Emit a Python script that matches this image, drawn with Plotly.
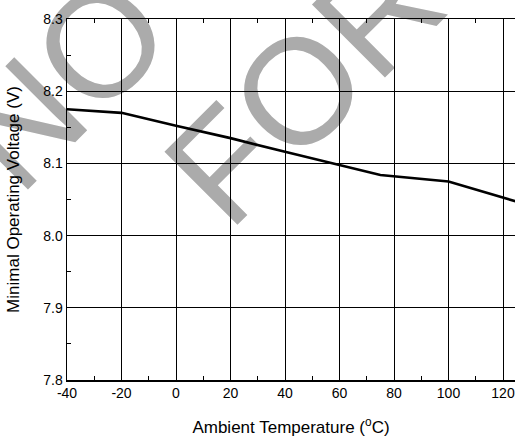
import plotly.graph_objects as go

# Data
temperature_c = [-40, -20, 0, 20, 40, 60, 75, 100, 125]
min_voltage_v = [8.175, 8.170, 8.152, 8.135, 8.116, 8.098, 8.084, 8.075, 8.047]

x_ticks = [-40, -20, 0, 20, 40, 60, 80, 100, 120]
y_ticks = [7.8, 7.9, 8.0, 8.1, 8.2, 8.3]
y_tick_labels = ["7.8", "7.9", "8.0", "8.1", "8.2", "8.3"]

watermark_words = ["NO", "FOR"]

FONT = "Arial, Liberation Sans, sans-serif"

fig = go.Figure()
fig.add_trace(go.Scatter(
    x=temperature_c, y=min_voltage_v, mode="lines",
    line=dict(color="black", width=2.6), showlegend=False, hoverinfo="skip",
))

# watermark drawn beneath grid and data (paper-referenced, lower layer)
wm_pos = [(-0.033, 0.853), (0.507, 0.845)]
for word, (cx, cy) in zip(watermark_words, wm_pos):
    fig.add_shape(
        type="rect", xref="paper", yref="paper",
        x0=cx - 0.001, x1=cx + 0.001, y0=cy - 0.001, y1=cy + 0.001,
        line=dict(width=0), fillcolor="rgba(0,0,0,0)", layer="below",
        label=dict(text=word, textangle=-45, textposition="middle center",
                   font=dict(size=150, color="#ababab", family=FONT)),
    )

fig.update_layout(
    width=515, height=438,
    margin=dict(l=67, r=0, t=19, b=58),
    paper_bgcolor="white", plot_bgcolor="white",
    font=dict(family=FONT, color="black", size=14),
    hovermode=False,
    xaxis=dict(
        range=[-40, 124.4], tickmode="array", tickvals=x_ticks,
        ticktext=[str(v) for v in x_ticks],
        showgrid=True, gridcolor="black", gridwidth=1, zeroline=False,
        showline=True, linecolor="black", linewidth=1.5, mirror="ticks",
        ticks="inside", ticklen=0, tickcolor="black",
        minor=dict(dtick=10, tick0=-40, ticks="inside", ticklen=4, tickcolor="black", showgrid=False),
        tickfont=dict(size=14), automargin=False,
        title=dict(text="Ambient Temperature (<sup>o</sup>C)", font=dict(size=17), standoff=21),
    ),
    yaxis=dict(
        range=[7.8, 8.3], tickmode="array", tickvals=y_ticks, ticktext=y_tick_labels,
        showgrid=True, gridcolor="black", gridwidth=1, zeroline=False,
        showline=True, linecolor="black", linewidth=1.5, mirror=False,
        ticks="inside", ticklen=0, tickcolor="black",
        minor=dict(dtick=0.05, tick0=7.8, ticks="inside", ticklen=4, tickcolor="black", showgrid=False),
        tickfont=dict(size=14), automargin=False,
        title=dict(text="Minimal Operating Voltage (V)", font=dict(size=17), standoff=19),
    ),
)

fig.write_html(
    "out.html",
    config={"displayModeBar": False, "staticPlot": True},
    post_script="document.body.style.margin='0';document.body.style.overflow='hidden';",
)
